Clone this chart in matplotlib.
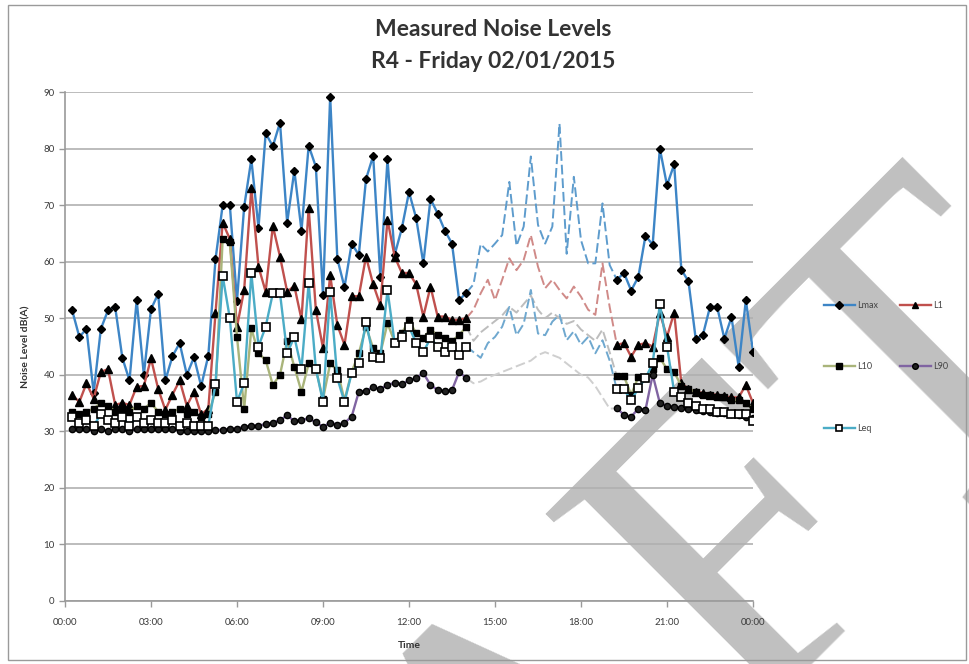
import numpy as np
import matplotlib
matplotlib.use('Agg')
import matplotlib.pyplot as plt
from matplotlib.patches import Rectangle

plt.rcParams['font.family'] = ['Lato', 'DejaVu Sans']

# 15 minute logging periods (end time, hours after midnight)
times = np.arange(1, 97) * 0.25
tick_hours = [0, 3, 6, 9, 12, 15, 18, 21, 24]
tick_labels = ['00:00', '03:00', '06:00', '09:00', '12:00', '15:00', '18:00', '21:00', '00:00']

lmax = [51.4, 46.7, 48.1, 36.8, 48.1, 51.4, 52.0, 43.0, 39.0, 53.2,
        40.0, 51.6, 54.3, 39.0, 43.3, 45.6, 40.0, 43.1, 38.0, 43.4,
        60.4, 70.0, 70.0, 53.1, 69.7, 78.1, 66.0, 82.7, 80.4, 84.6,
        66.9, 76.1, 65.5, 80.5, 76.8, 54.1, 89.2, 60.5, 55.5, 63.2,
        61.2, 74.6, 78.7, 57.3, 78.1, 61.2, 65.9, 72.3, 67.7, 59.7,
        71.1, 68.5, 65.5, 63.2, 53.2, 54.5, 56.0, 63.1, 61.8, 63.2,
        64.7, 74.1, 62.8, 66.2, 78.6, 66.5, 63.2, 66.2, 84.4, 61.4,
        75.0, 63.8, 59.7, 59.7, 70.3, 59.4, 56.8, 58.0, 54.9, 57.3,
        64.6, 63.0, 80.0, 73.5, 77.2, 58.6, 56.5, 46.4, 47.0, 52.0,
        52.0, 46.4, 50.2, 41.4, 53.2, 44.1]

l1 = [36.4, 35.2, 38.5, 35.8, 40.5, 41.0, 34.7, 35.0, 34.7, 37.9,
      38.0, 42.9, 37.5, 33.8, 36.5, 39.0, 34.5, 37.0, 33.0, 34.0,
      50.9, 66.9, 64.0, 48.5, 55.0, 73.0, 59.1, 54.7, 66.3, 60.9,
      54.7, 55.7, 49.8, 69.5, 51.5, 44.7, 57.6, 48.8, 45.3, 53.9,
      53.9, 60.9, 56.0, 52.3, 67.4, 60.9, 58.0, 58.0, 56.0, 50.3,
      55.6, 50.3, 50.3, 49.7, 49.7, 50.0, 51.5, 54.4, 56.8, 53.2,
      56.8, 60.6, 58.5, 60.3, 64.7, 59.1, 55.3, 56.8, 55.0, 53.5,
      55.6, 53.8, 51.5, 50.6, 59.7, 52.0, 45.3, 45.6, 43.2, 45.3,
      45.6, 45.0, 50.9, 46.7, 51.0, 38.5, 37.5, 37.0, 36.8, 36.5,
      36.5, 36.2, 36.0, 36.0, 38.2, 35.0]

l10 = [33.5, 33.0, 33.5, 34.0, 35.0, 34.5, 33.5, 34.0, 33.5, 34.5,
       34.0, 35.0, 33.5, 33.0, 33.5, 34.0, 33.0, 33.5, 32.5, 33.0,
       37.0, 64.0, 63.5, 46.7, 34.0, 48.2, 43.8, 42.6, 38.2, 40.0,
       46.0, 41.4, 37.0, 42.0, 41.0, 35.7, 42.0, 40.8, 35.5, 40.5,
       43.8, 48.5, 44.7, 43.8, 49.1, 45.8, 47.3, 49.7, 47.3, 46.5,
       48.0, 47.0, 46.5, 46.0, 47.0, 48.5, 46.0, 47.5, 48.5, 49.5,
       50.5, 52.0, 51.0, 52.5, 54.0, 51.5, 50.0, 51.0, 50.0, 49.0,
       49.5, 48.0, 47.0, 46.0, 48.0, 44.0, 39.7, 39.7, 36.5, 39.6,
       39.5, 41.0, 43.0, 41.0, 40.5, 38.0, 37.5, 37.0, 36.5, 36.5,
       36.0, 36.0, 35.5, 35.5, 35.0, 34.0]

l90 = [30.5, 30.5, 30.5, 30.0, 30.5, 30.0, 30.5, 30.5, 30.0, 30.5,
       30.5, 30.5, 30.5, 30.5, 30.5, 30.0, 30.0, 30.0, 30.0, 30.0,
       30.2, 30.3, 30.4, 30.5, 30.8, 31.0, 31.0, 31.3, 31.5, 32.0,
       32.8, 31.8, 32.0, 32.3, 31.6, 30.8, 31.5, 31.2, 31.5, 32.6,
       37.0, 37.2, 37.8, 37.5, 38.2, 38.6, 38.3, 39.0, 39.4, 40.3,
       38.2, 37.3, 37.1, 37.3, 40.5, 39.4, 38.5, 38.8, 39.5, 40.0,
       40.5, 41.0, 41.5, 42.0, 42.5, 43.5, 44.0, 43.5, 43.0, 42.0,
       41.0, 40.0, 39.5, 38.0, 36.0, 34.0, 34.1, 32.9, 32.6, 34.0,
       33.8, 40.0, 35.0, 34.5, 34.3, 34.2, 34.0, 33.8, 33.6, 33.5,
       33.3, 33.2, 33.0, 32.8, 32.6, 32.3]

leq = [32.5, 31.5, 32.0, 31.0, 33.0, 32.0, 31.5, 32.5, 31.0, 32.5,
       31.5, 32.0, 31.5, 31.5, 32.0, 31.0, 31.5, 31.0, 31.0, 31.0,
       38.4, 57.5, 50.0, 35.2, 38.5, 58.0, 45.0, 48.5, 54.4, 54.4,
       43.8, 46.7, 41.1, 56.2, 41.1, 35.2, 54.7, 39.4, 35.2, 40.3,
       42.0, 49.4, 43.2, 42.9, 55.0, 45.6, 46.7, 48.5, 45.6, 44.0,
       46.5, 45.0, 44.0, 45.0, 43.5, 45.0, 44.0, 43.0, 45.6, 46.7,
       48.5, 52.0, 47.0, 49.0, 55.0, 47.3, 47.0, 49.4, 50.6, 46.1,
       47.7, 45.3, 46.7, 43.8, 46.1, 42.5, 37.4, 37.4, 35.5, 37.6,
       39.4, 42.0, 52.5, 45.0, 37.0, 36.0, 35.0, 34.5, 34.0, 34.0,
       33.5, 33.5, 33.0, 33.0, 33.0, 31.8]

# periods between these times are excluded and only shown greyed out
excl_start, excl_end = 14.0, 19.25

fig = plt.figure(figsize=(9.7, 6.64), dpi=100)
ax = fig.add_axes([65 / 970, 63 / 664, 688 / 970, 509 / 664])
ax.patch.set_visible(False)

# watermark behind the chart
fig.text(70 / 970, 1 - 1394 / 664, 'DRAFT', fontsize=324, family='Liberation Serif',
         color='#c0c0c0', rotation=45, rotation_mode='anchor',
         ha='left', va='baseline', zorder=-5)

valid = (times <= excl_start) | (times >= excl_end)
faint = (times >= excl_start) & (times <= excl_end)

series = [
    ('Lmax', lmax, '#3d85c6', '#5e9ccd', dict(marker='D', ms=4.2, mfc='black', mec='black')),
    ('L1', l1, '#c0504d', '#d08a88', dict(marker='^', ms=5.5, mfc='black', mec='black')),
    ('L10', l10, '#a9b47a', '#bdbdbd', dict(marker='s', ms=5, mfc='black', mec='black')),
    ('L90', l90, '#8064a2', '#cfcfcf', dict(marker='o', ms=4.5, mfc='#222222', mec='black')),
    ('Leq', leq, '#4bacc6', '#6fa8cf', dict(marker='s', ms=5.5, mfc='white', mec='black', mew=1.2)),
]

handles = {}
for name, vals, col, fcol, mk in series:
    v = np.array(vals)
    ax.plot(times[faint], v[faint], color=fcol, lw=1.4, dashes=(5, 2), zorder=2)
    line, = ax.plot(times, np.where(valid, v, np.nan), color=col, lw=1.7,
                    label=name, zorder=3, **mk)
    handles[name] = line

ax.set_xlim(0, 24)
ax.set_ylim(0, 90)
ax.set_xticks(tick_hours)
ax.set_xticklabels(tick_labels)
ax.set_yticks(range(0, 91, 10))
ax.yaxis.grid(True, color='#b0b0b0', lw=1.2)
ax.set_axisbelow(True)
for s in ['top', 'right']:
    ax.spines[s].set_visible(False)
for s in ['left', 'bottom']:
    ax.spines[s].set_color('#9a9a9a')
    ax.spines[s].set_linewidth(1.2)
ax.tick_params(axis='both', labelsize=7, colors='#9a9a9a', labelcolor='#3a3a3a',
               length=4, width=1)
ax.tick_params(axis='x', pad=8)

ax.set_ylabel('Noise Level dB(A)', fontsize=7.5, fontweight='bold', color='#333333', labelpad=9)
ax.set_xlabel('Time', fontsize=7.5, fontweight='bold', color='#333333', labelpad=10)

fig.text(493 / 970, 1 - 30 / 664, 'Measured Noise Levels', fontsize=16.5,
         fontweight='bold', color='#333333', ha='center', va='center')
fig.text(493 / 970, 1 - 61 / 664, 'R4 - Friday 02/01/2015', fontsize=16.5,
         fontweight='bold', color='#333333', ha='center', va='center')

order = ['Lmax', 'L10', 'Leq', 'L1', 'L90']
fig.legend([handles[n] for n in order], order, ncol=2, frameon=False,
           loc='upper left', bbox_to_anchor=(824 / 970, 1 - 301 / 664),
           fontsize=6.5, handlelength=3.4, handletextpad=0.3,
           columnspacing=2.4, labelspacing=5.8, borderpad=0, borderaxespad=0,
           markerscale=0.9, labelcolor='#444444')

fig.add_artist(Rectangle((8 / 970, 1 - 660 / 664), 958 / 970, 655 / 664,
                         transform=fig.transFigure, fill=False,
                         ec='#9a9a9a', lw=1))

fig.savefig('out.png', dpi=100)
